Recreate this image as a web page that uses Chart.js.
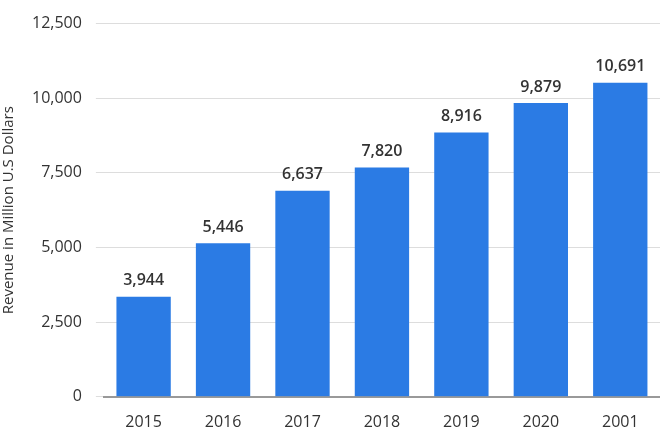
<!DOCTYPE html>
<html>
<head>
<meta charset="utf-8">
<script src="https://cdn.jsdelivr.net/npm/chart.js@4"></script>
<style>
  body { margin: 0; background: #fff; }
  #wrap { width: 660px; height: 440px; }
</style>
</head>
<body>
<div id="wrap"><canvas id="myChart"></canvas></div>
<script>
const years = ['2015', '2016', '2017', '2018', '2019', '2020', '2001'];
// bar heights as drawn in the picture
const revenue = [3350, 5140, 6900, 7680, 8850, 9840, 10520];
// labels printed above the bars
const valueLabels = ['3,944', '5,446', '6,637', '7,820', '8,916', '9,879', '10,691'];
const yTicks = [0, 2500, 5000, 7500, 10000, 12500];

const barLabels = {
    id: 'barLabels',
    afterDatasetsDraw(chart) {
        const ctx = chart.ctx;
        const meta = chart.getDatasetMeta(0);
        ctx.save();
        ctx.font = '600 16px "Open Sans", sans-serif';
        ctx.fillStyle = '#333';
        ctx.textAlign = 'center';
        ctx.textBaseline = 'bottom';
        meta.data.forEach((bar, i) => {
            ctx.fillText(valueLabels[i], bar.x, bar.y - 8);
        });
        ctx.restore();
    }
};

new Chart(document.getElementById('myChart'), {
    type: 'bar',
    data: {
        labels: years,
        datasets: [{
            data: revenue,
            backgroundColor: '#2b7be4',
            categoryPercentage: 0.76,
            barPercentage: 0.9,
        }],
    },
    options: {
        responsive: true,
        maintainAspectRatio: false,
        animation: false,
        layout: { padding: { top: 2, right: 0, left: 0, bottom: 0 } },
        plugins: { legend: { display: false }, tooltip: { enabled: false } },
        scales: {
            x: {
                grid: { display: false },
                border: { color: '#999', width: 2 },
                ticks: { color: '#333', padding: 8, font: { size: 16, family: '"Open Sans", sans-serif' } },
            },
            y: {
                min: 0,
                max: 12500,
                afterBuildTicks(axis) { axis.ticks = yTicks.map(v => ({ value: v })); },
                border: { display: false },
                grid: { color: '#ddd' },
                ticks: {
                    color: '#333',
                    padding: 14,
                    font: { size: 16, family: '"Open Sans", sans-serif' },
                    callback: v => v.toLocaleString('en-US'),
                },
                title: {
                    display: true,
                    text: 'Revenue in Million U.S Dollars',
                    color: '#333',
                    font: { size: 15, family: '"Open Sans", sans-serif' },
                    padding: 0,
                },
            },
        },
    },
    plugins: [barLabels],
});
</script>
</body>
</html>
